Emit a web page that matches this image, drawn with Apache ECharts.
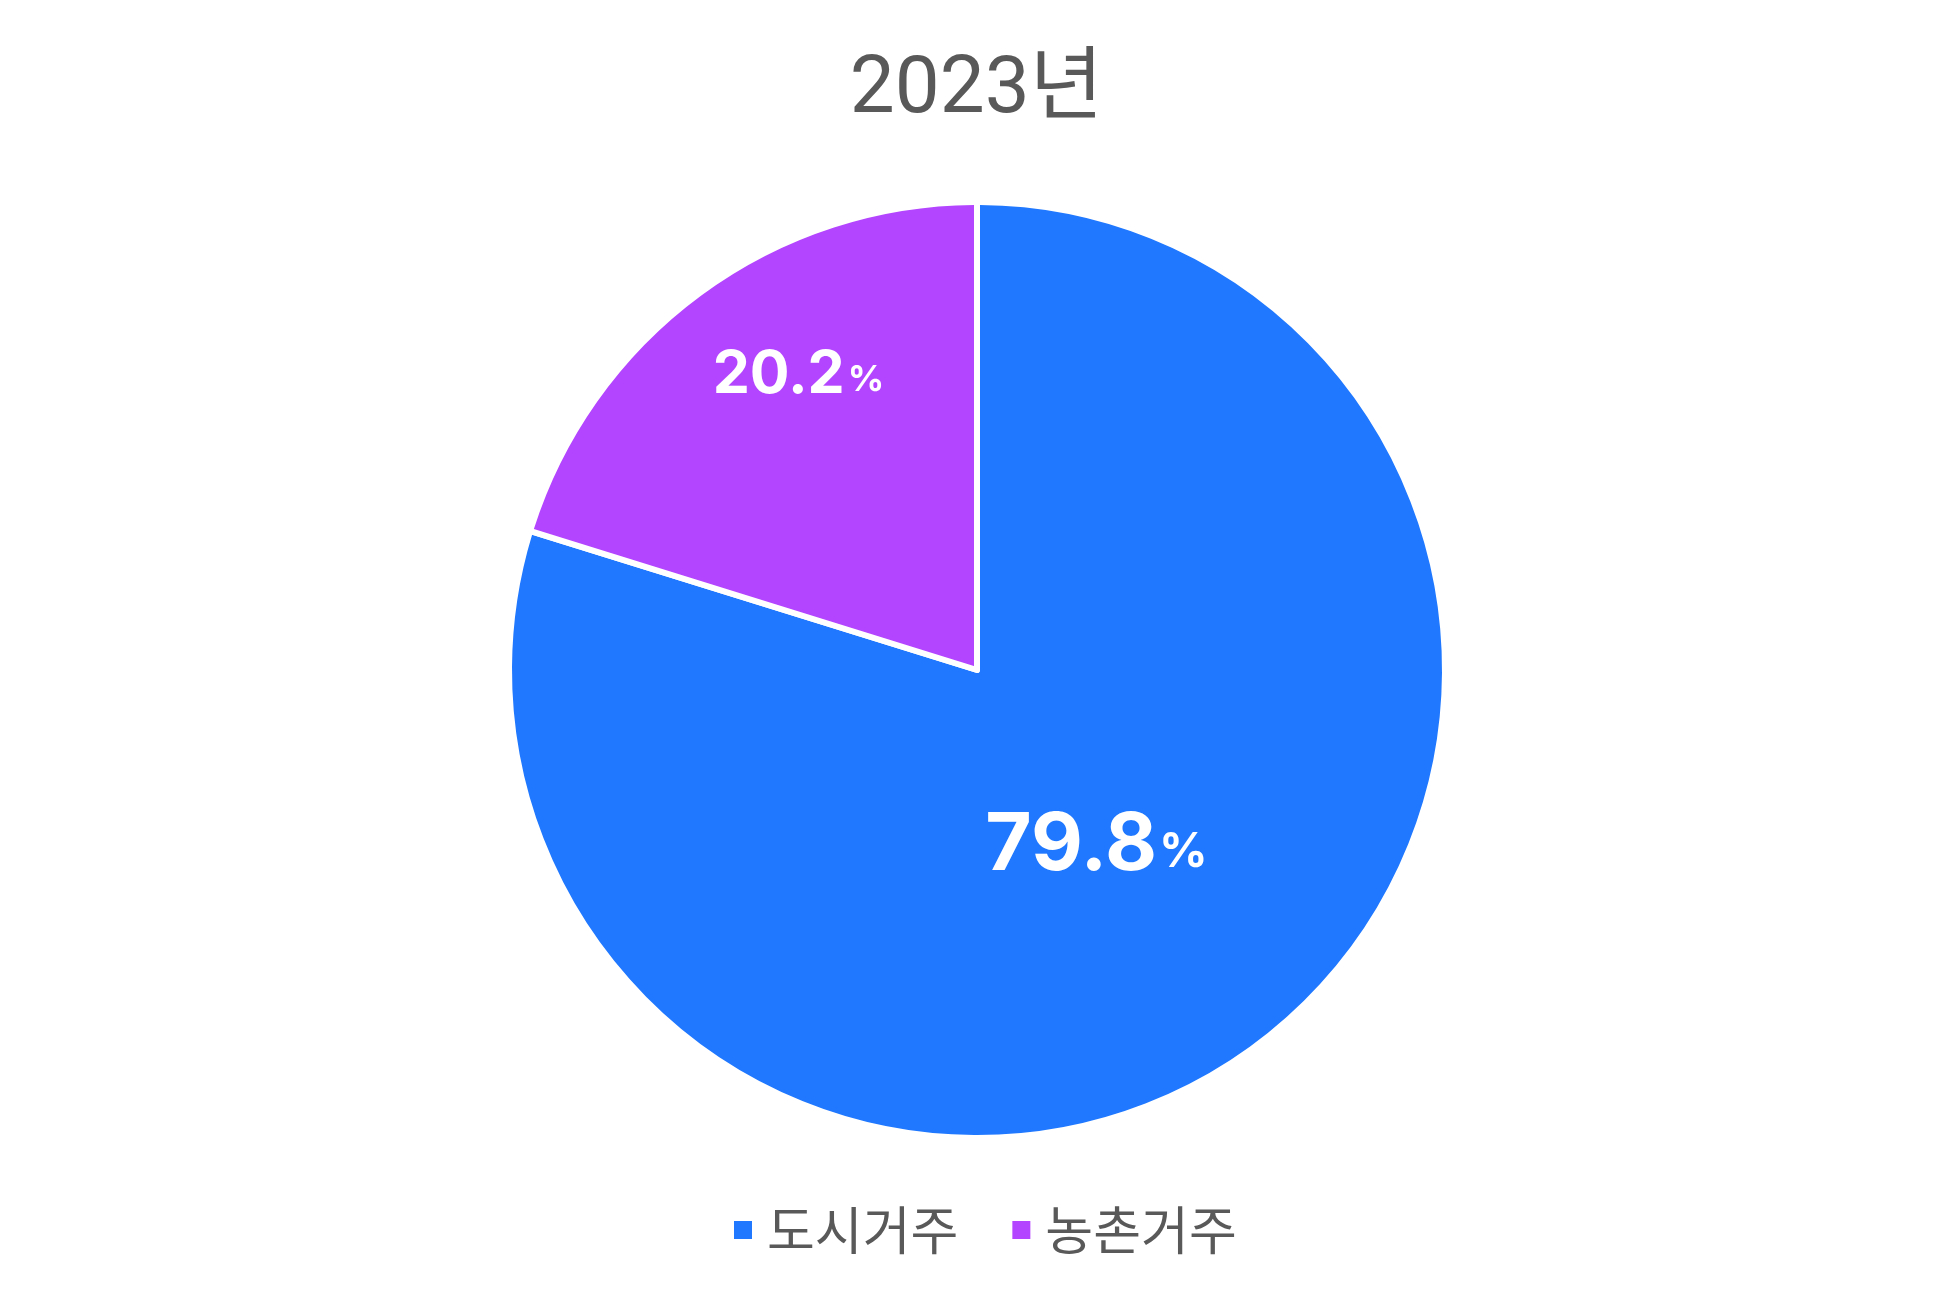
<!DOCTYPE html>
<html><head><meta charset="utf-8">
<script src="https://cdn.jsdelivr.net/npm/echarts@6/dist/echarts.min.js"></script>
<style>html,body{margin:0;padding:0;background:#fff}#c{width:1953px;height:1303px}</style>
</head><body><div id="c"></div>
<script>
const titleText = '2023년';
const categories = ['도시거주', '농촌거주'];
const values = [79.8, 20.2];
const colors = ['#1F78FF', '#B344FF'];
const labelOffsets = [[-21, -15], [-38, -104]];
const FONT = 'Inter, "Noto Sans CJK KR", sans-serif';
const TFONT = 'Roboto, "Noto Sans CJK KR", sans-serif';

const chart = echarts.init(document.getElementById('c'));
chart.setOption({
  animation: false,
  title: {
    text: titleText, left: 'center', top: 47,
    textStyle: { fontSize: 80, fontWeight: 'normal', color: '#595959', fontFamily: TFONT }
  },
  legend: {
    data: categories, bottom: 42, left: 729, icon: 'rect',
    itemWidth: 18, itemHeight: 18, itemGap: 54,
    itemStyle: { borderWidth: 0 },
    textStyle: { fontSize: 52, color: '#595959', fontFamily: '"Noto Sans CJK KR", sans-serif', padding: [0, 0, 0, 10] }
  },
  series: [{
    type: 'pie', center: [977, 670], radius: 468, startAngle: 90, clockwise: true,
    itemStyle: { borderColor: '#fff', borderWidth: 6, borderRadius: 3 },
    label: {
      position: 'inside',
      formatter: p => '{n|' + p.value.toFixed(1) + '}{p|%}',
      rich: {
        n: { fontSize: 80, fontWeight: 'bold', color: '#fff', fontFamily: FONT },
        p: { fontSize: 48, fontWeight: 'bold', color: '#fff', fontFamily: FONT, padding: [14, 0, 0, 2] }
      }
    },
    labelLine: { show: false },
    emphasis: { disabled: true },
    data: categories.map((c, i) => ({
      name: c, value: values[i], itemStyle: { color: colors[i] },
      label: i === 1 ? { offset: labelOffsets[i], rich: {
        n: { fontSize: 59, fontWeight: 'bold', color: '#fff', fontFamily: FONT },
        p: { fontSize: 36, fontWeight: 'bold', color: '#fff', fontFamily: FONT, padding: [10, 0, 0, 3] } } }
        : { offset: labelOffsets[i] }
    }))
  }]
});
</script></body></html>
